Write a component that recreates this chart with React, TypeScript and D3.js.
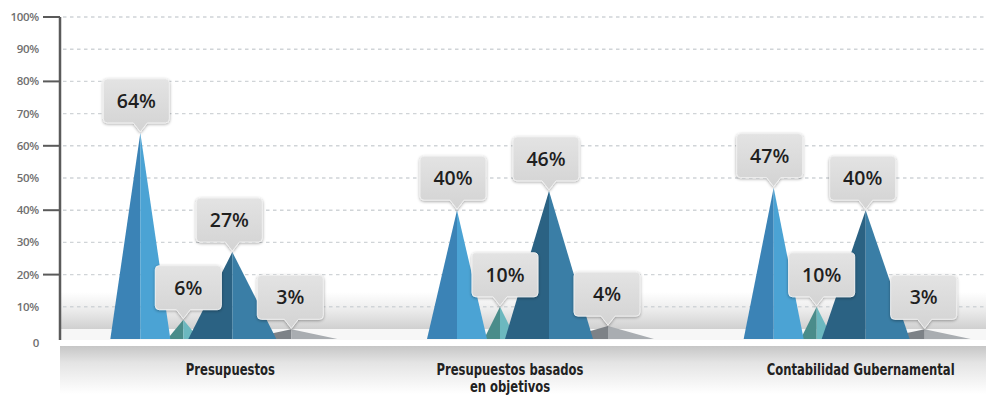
import React from "react";
import * as d3 from "d3";

// ---- data ----
const categories = ["Presupuestos", "Presupuestos basados en objetivos", "Contabilidad Gubernamental"];
const categoryLines = [["Presupuestos"], ["Presupuestos basados", "en objetivos"], ["Contabilidad Gubernamental"]];
const seriesA = [64, 40, 47];
const seriesB = [6, 10, 10];
const seriesC = [27, 46, 40];
const seriesD = [3, 4, 3];
const yTicks = [0, 10, 20, 30, 40, 50, 60, 70, 80, 90, 100];
const majorTicks = [20, 40, 60, 80, 100];

// ---- layout / style ----
const W = 986;
const H = 398;
const AXIS_X = 60;

const seriesStyle = [
  { key: "D", values: seriesD, dx: 75, half: 46, left: "#7d8287", right: "#a9adb1", boxDx: -1 },
  { key: "B", values: seriesB, dx: -33, half: 16, left: "#4a8c8a", right: "#6cb8bf", boxDx: 5 },
  { key: "A", values: seriesA, dx: -76, half: 30, left: "#3b83b6", right: "#4ba3d4", boxDx: -4 },
  { key: "C", values: seriesC, dx: 16, half: 44, left: "#2b6283", right: "#3a7ea6", boxDx: -3 },
];
const labelDx = [14, -23, 11];

const BOX_W = 66;
const BOX_H = 44;
const PTR_H = 9;
const PTR_HALF = 7;

function calloutPath(tipX: number, tipY: number, cx: number) {
  const p = d3.path();
  const r = 4;
  const x0 = cx - BOX_W / 2;
  const x1 = cx + BOX_W / 2;
  const yb = tipY - PTR_H;
  const y0 = yb - BOX_H;
  p.moveTo(x0 + r, y0);
  p.lineTo(x1 - r, y0);
  p.arcTo(x1, y0, x1, y0 + r, r);
  p.lineTo(x1, yb - r);
  p.arcTo(x1, yb, x1 - r, yb, r);
  p.lineTo(tipX + PTR_HALF, yb);
  p.lineTo(tipX, tipY);
  p.lineTo(tipX - PTR_HALF, yb);
  p.lineTo(x0 + r, yb);
  p.arcTo(x0, yb, x0, yb - r, r);
  p.lineTo(x0, y0 + r);
  p.arcTo(x0, y0, x0 + r, y0, r);
  p.closePath();
  return p.toString();
}

export default function App() {
  const y = d3.scaleLinear().domain([0, 100]).range([339, 17]);
  const x = d3.scaleBand<string>().domain(categories).range([58, 1008]).padding(0);
  const center = (c: string) => (x(c) as number) + x.bandwidth() / 2;
  const base = y(0);

  const face = d3.line<[number, number]>();

  const callouts: { tipX: number; tipY: number; cx: number; v: number; k: string }[] = [];

  return (
    <svg width={W} height={H} style={{ position: "absolute", left: 0, top: 0 }} fontFamily="'Open Sans', sans-serif">
      <defs>
        <linearGradient id="band" x1="0" y1="0" x2="0" y2="1">
          <stop offset="0" stopColor="#ffffff" />
          <stop offset="0.5" stopColor="#ebebeb" />
          <stop offset="1" stopColor="#d0d0d0" />
        </linearGradient>
        <linearGradient id="floor" x1="0" y1="0" x2="0" y2="1">
          <stop offset="0" stopColor="#c6c6c6" />
          <stop offset="0.35" stopColor="#e4e4e4" />
          <stop offset="1" stopColor="#ffffff" />
        </linearGradient>
        <linearGradient id="box" x1="0" y1="0" x2="0" y2="1">
          <stop offset="0" stopColor="#e3e3e3" />
          <stop offset="1" stopColor="#d3d3d3" />
        </linearGradient>
        <filter id="shadow" x="-20%" y="-20%" width="140%" height="150%">
          <feDropShadow dx="0" dy="1" stdDeviation="1.6" floodColor="#000" floodOpacity="0.35" />
        </filter>
      </defs>
      <rect x={0} y={0} width={W} height={H} fill="#ffffff" />

      {/* background band */}
      <rect x={AXIS_X + 1} y={292} width={W - AXIS_X} height={37} fill="url(#band)" />
      <rect x={AXIS_X + 1} y={329} width={W - AXIS_X} height={11} fill="#f7f7f7" />
      <rect x={AXIS_X} y={346} width={W - AXIS_X} height={48} fill="url(#floor)" />

      {/* grid */}
      {yTicks.filter((t) => t > 0).map((t) => (
        <line key={t} x1={AXIS_X + 3} x2={W} y1={y(t)} y2={y(t)} stroke="#d0d4d7" strokeWidth={1.4} strokeDasharray="3.5 3.5" />
      ))}

      {/* axis */}
      <line x1={AXIS_X} x2={AXIS_X} y1={y(100)} y2={base + 1} stroke="#5a5a5a" strokeWidth={2.5} />
      {majorTicks.map((t) => (
        <line key={t} x1={43} x2={AXIS_X} y1={y(t)} y2={y(t)} stroke="#5a5a5a" strokeWidth={2} />
      ))}
      {yTicks.map((t) => (
        <text key={t} x={39} y={y(t) + (t === 0 ? 4 : 0)} dy="0.35em" textAnchor="end" fontSize={11.5} fontWeight={600} fill="#6f6f6f" letterSpacing={-0.3}>
          {t === 0 ? "0" : `${t}%`}
        </text>
      ))}

      {/* peaks */}
      {seriesStyle.map((s) =>
        categories.map((c, i) => {
          const px = center(c) + s.dx;
          const py = y(s.values[i]);
          callouts.push({ tipX: px, tipY: py, cx: px + s.boxDx, v: s.values[i], k: s.key + i });
          return (
            <g key={s.key + i}>
              <path d={face([[px - s.half, base], [px, py], [px, base]]) + "Z"} fill={s.left} />
              <path d={face([[px, base], [px, py], [px + s.half, base]]) + "Z"} fill={s.right} />
            </g>
          );
        })
      )}

      {/* callouts */}
      {callouts.map((o) => (
        <g key={"c" + o.k}>
          <path d={calloutPath(o.tipX, o.tipY - 1, o.cx)} fill="url(#box)" stroke="#f0f0f0" strokeWidth={1} filter="url(#shadow)" />
          <text x={o.cx} y={o.tipY - 1 - PTR_H - BOX_H / 2} dy="0.36em" textAnchor="middle" fontSize={19.5} fontWeight={600} fill="#1f1f1f">
            {`${o.v}%`}
          </text>
        </g>
      ))}

      {/* category labels */}
      {categories.map((c, i) => (
        <g key={c} transform={`translate(${center(c) + labelDx[i]},375) scale(0.86,1)`}>
          <text x={0} y={0} textAnchor="middle" fontFamily="'DejaVu Sans Condensed', 'DejaVu Sans', sans-serif" fontSize={15} fontWeight={700} fill="#222">
            {categoryLines[i].map((l, j) => (
              <tspan key={j} x={0} dy={j === 0 ? 0 : 17}>{l}</tspan>
            ))}
          </text>
        </g>
      ))}
    </svg>
  );
}
